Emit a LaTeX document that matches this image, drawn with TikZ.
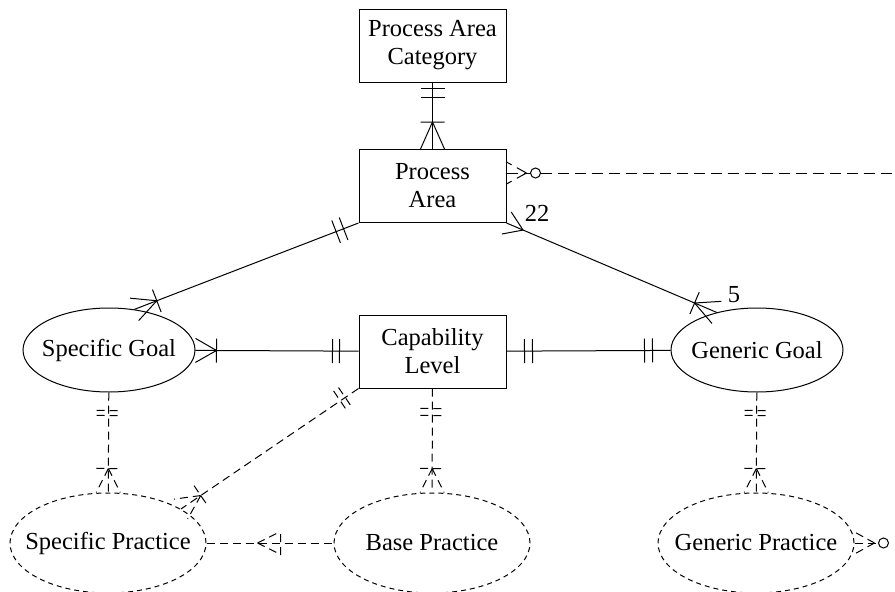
\documentclass[tikz,border=0pt]{standalone}
\usepackage{fontspec}
\setmainfont{Liberation Serif}
\usetikzlibrary{shapes.geometric,decorations.markings}

\tikzset{
  ent/.style={draw, line width=1pt, minimum width=147pt, minimum height=73pt,
    align=center, inner sep=0pt, font=\fontsize{24.5}{28}\selectfont},
  goal/.style={draw, line width=1pt, ellipse, inner sep=0pt,
    minimum width=172pt, minimum height=84pt,
    label={[font=\fontsize{24.5}{28}\selectfont]center:#1}},
  prac/.style={goal=#1, minimum width=196pt, minimum height=100pt,
    dash pattern=on 5pt off 4pt},
  rel/.style={line width=1pt},
  opt/.style={rel, dash pattern=on 8pt off 5pt},
  % two bars (exactly one)
  one start/.style 2 args={postaction={decorate, decoration={markings,
    mark=at position 0 with {\draw (#1,-12pt) -- (#1,12pt) (#2,-12pt) -- (#2,12pt);}}}},
  one end/.style 2 args={postaction={decorate, decoration={markings,
    mark=at position 1 with {\draw (-#1,-12pt) -- (-#1,12pt) (-#2,-12pt) -- (-#2,12pt);}}}},
  % crow's foot with bar (one or many)
  many end/.style={postaction={decorate, decoration={markings,
    mark=at position 1 with {\draw (-#1,0) -- (0,12pt) (-#1,0) -- (0,-12pt)
      (-#1,-12pt) -- (-#1,12pt);}}}},
  many start/.style={postaction={decorate, decoration={markings,
    mark=at position 0 with {\draw (#1,0) -- (0,12pt) (#1,0) -- (0,-12pt)
      (#1,-12pt) -- (#1,12pt);}}}},
  % crow's foot only
  crow start/.style={postaction={decorate, decoration={markings,
    mark=at position 0 with {\draw (#1,0) -- (0,12pt) (#1,0) -- (0,-12pt);}}}},
  % crow's foot with ring (zero or many)
  zmany start/.style={postaction={decorate, decoration={markings,
    mark=at position 0 with {\draw (20pt,0) -- (0,11pt) (20pt,0) -- (0,-11pt);
      \draw[solid, fill=white] (29pt,0) circle (5pt);}}}},
  lbl/.style={font=\fontsize{24.5}{28}\selectfont, inner sep=0pt}
}

\begin{document}
\begin{tikzpicture}[x=1pt, y=-1pt]
  \useasboundingbox (0,0) rectangle (895,592);

  % entities
  \node[ent] (pac) at (432.5,45.5) {Process Area\\Category};
  \node[ent] (pa) at (432.5,186) {Process\\Area};
  \node[ent] (cl) at (432.5,351.5) {Capability\\Level};
  \node[goal=Specific Goal] (sg) at (109,350) {};
  \node[goal=Generic Goal] (gg) at (757,350) {};
  \node[prac=Specific Practice] (sp) at (108,543) {};
  \node[prac=Base Practice] (bp) at (432,543) {};
  \node[prac=Generic Practice] (gp) at (756,543) {};
  \coordinate (paout) at (895,173);

  % solid relationships
  \draw[rel, one start={6pt}{15pt}, many end=27pt] (pac) -- (pa);
  \draw[rel, one start={16pt}{24pt}, many end=24pt] (pa.south west) -- (sg.58);
  \draw[rel, crow start=18pt, many end=24pt] (pa.south east) -- (gg.137);
  \draw[rel, many start=21pt, one end={19pt}{26pt}] (sg) -- (cl);
  \draw[rel, one start={18pt}{26pt}, one end={18pt}{26pt}] (cl) -- (gg);

  % dashed relationships
  \draw[opt, one start={18pt}{23pt}, many end=24pt] (sg) -- (sp);
  \draw[opt, one start={20pt}{27pt}, many end=24pt] (cl) -- (bp);
  \draw[opt, one start={18pt}{23pt}, many end=24pt] (gg) -- (gp);
  \draw[opt, one start={16pt}{22pt}, many end=24pt] (cl.south west) -- (sp.25);
  \draw[opt, postaction={decorate, decoration={markings,
    mark=at position 51pt with {\draw (0,0) -- (20pt,10pt) (0,0) -- (20pt,-10pt)
      (23pt,-12pt) -- (23pt,12pt);}}}] (sp) -- (bp);
  \draw[opt, dash pattern=on 11pt off 6pt, zmany start] (pa.east |- paout) -- (paout);
  \draw[opt, zmany start] (gp.east) -- ++(24,0) coordinate (gpx);

  % cardinalities
  \node[lbl] (n22) at (537,213) {22};
  \node[lbl] (n5) at (734,295) {5};
\end{tikzpicture}
\end{document}
